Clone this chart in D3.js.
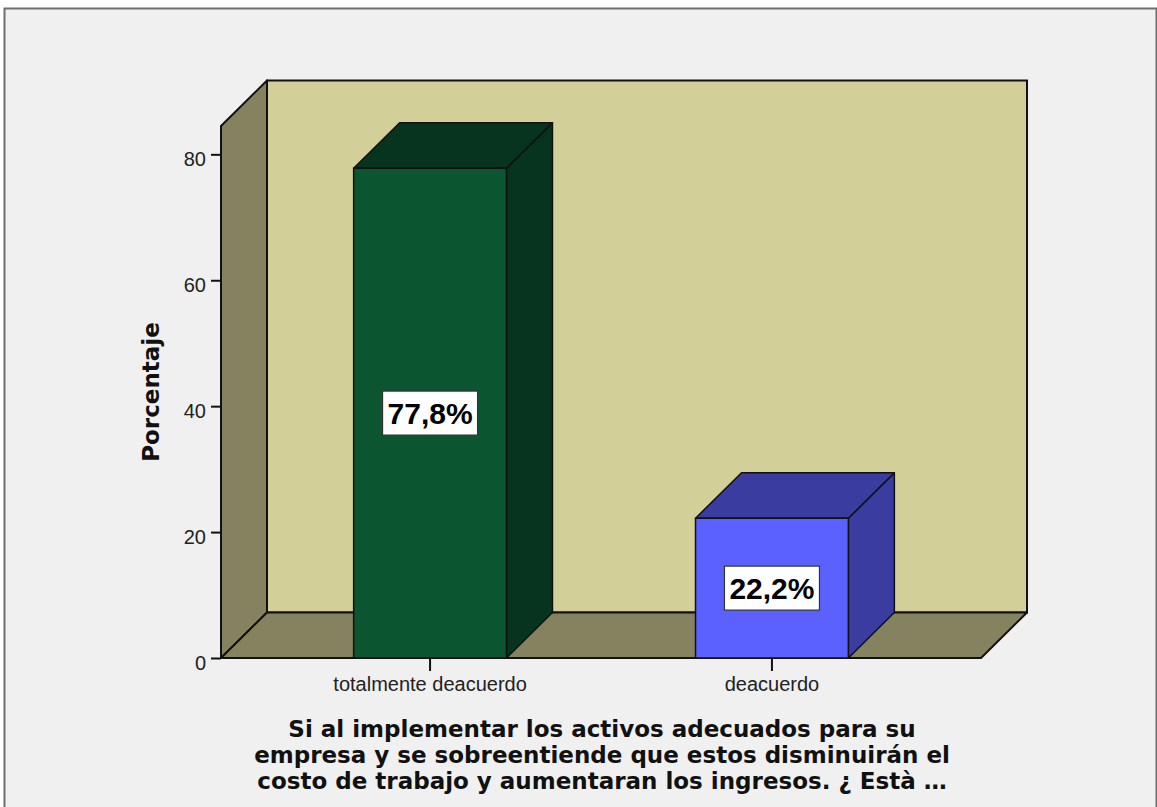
<!DOCTYPE html>
<html><head><meta charset="utf-8">
<script src="https://cdn.jsdelivr.net/npm/d3@7"></script>
<style>body{margin:0;background:#fff;} svg{display:block}</style>
</head><body>
<svg id="chart" width="1157" height="807"></svg>
<script>
const categories = ["totalmente deacuerdo", "deacuerdo"];
const percentages = [77.8, 22.2];
const valueLabels = ["77,8%", "22,2%"];
const yTicks = [0, 20, 40, 60, 80];
const yAxisTitle = "Porcentaje";
const xAxisTitleLines = [
  "Si al implementar los activos adecuados para su",
  "empresa y se sobreentiende que estos disminuirán el",
  "costo de trabajo y aumentaran los ingresos. ¿ Està …"
];
const frontColors = ["#0b5530", "#5b61fe"];
const darkColors = ["#06341e", "#3a3ca0"];

const svg = d3.select("#chart");
const W = 1157, H = 807;

// frame
svg.append("rect").attr("x", 0).attr("y", 0).attr("width", W).attr("height", H).attr("fill", "#ffffff");
svg.append("rect").attr("x", 4.5).attr("y", 8.5).attr("width", 1152).attr("height", 820)
  .attr("fill", "#f0f0f0").attr("stroke", "#6e6e6e").attr("stroke-width", 2);

const dx = 46, dy = -45.5;
const yMax = 84.5;
const y = d3.scaleLinear().domain([0, yMax]).range([658, 126]);
const x = d3.scaleBand().domain(categories).range([221, 981]).paddingInner(0.553).paddingOuter(0.388);
const [xa, xb] = x.range();
const y0 = y(0), yT = y(yMax);
const pts = p => p.map(d => d.join(",")).join(" ");
const stroke = "#111";

// back wall
svg.append("rect").attr("x", xa + dx).attr("y", yT + dy).attr("width", xb - xa).attr("height", y0 - yT)
  .attr("fill", "#d3cf98").attr("stroke", stroke).attr("stroke-width", 2);
// left wall
svg.append("polygon").attr("points", pts([[xa, y0], [xa, yT], [xa + dx, yT + dy], [xa + dx, y0 + dy]]))
  .attr("fill", "#85825f").attr("stroke", stroke).attr("stroke-width", 2).attr("stroke-linejoin", "round");
// floor
svg.append("polygon").attr("points", pts([[xa, y0], [xb, y0], [xb + dx, y0 + dy], [xa + dx, y0 + dy]]))
  .attr("fill", "#85825f").attr("stroke", stroke).attr("stroke-width", 2).attr("stroke-linejoin", "round");

// bars
const bw = x.bandwidth();
const bars = svg.append("g").selectAll("g").data(categories).join("g");
bars.each(function (c, i) {
  const g = d3.select(this);
  const xl = x(c), xr = xl + bw, yt = y(percentages[i]);
  g.append("polygon").attr("points", pts([[xr, yt], [xr + dx, yt + dy], [xr + dx, y0 + dy], [xr, y0]]))
    .attr("fill", darkColors[i]).attr("stroke", stroke).attr("stroke-width", 1.5).attr("stroke-linejoin", "round");
  g.append("polygon").attr("points", pts([[xl, yt], [xl + dx, yt + dy], [xr + dx, yt + dy], [xr, yt]]))
    .attr("fill", darkColors[i]).attr("stroke", stroke).attr("stroke-width", 1.5).attr("stroke-linejoin", "round");
  g.append("rect").attr("x", xl).attr("y", yt).attr("width", bw).attr("height", y0 - yt)
    .attr("fill", frontColors[i]).attr("stroke", stroke).attr("stroke-width", 1.5);
  const cx = xl + bw / 2, cy = (yt + y0) / 2;
  g.append("rect").attr("x", cx - 47.5).attr("y", cy - 22).attr("width", 95).attr("height", 44)
    .attr("fill", "#ffffff").attr("stroke", "#333").attr("stroke-width", 1.2);
  g.append("text").attr("x", cx).attr("y", cy + 10.5).attr("text-anchor", "middle")
    .attr("font-family", "Liberation Sans, Arial, sans-serif").attr("font-weight", "bold")
    .attr("font-size", 30).attr("fill", "#000").text(valueLabels[i]);
});

// y axis
const yAxis = svg.append("g").attr("transform", `translate(${xa},0)`)
  .call(d3.axisLeft(y).tickValues(yTicks).tickSize(10).tickPadding(5).tickFormat(d3.format("d")));
yAxis.select(".domain").remove();
yAxis.selectAll(".tick line").attr("stroke", stroke).attr("stroke-width", 2);
yAxis.selectAll(".tick text").attr("font-family", "Liberation Sans, Arial, sans-serif")
  .attr("font-size", 20).attr("fill", "#222").attr("dy", "0.57em");

// x axis
const xAxis = svg.append("g").attr("transform", `translate(0,${y0})`)
  .call(d3.axisBottom(x).tickSize(13).tickPadding(6));
xAxis.select(".domain").remove();
xAxis.selectAll(".tick line").attr("stroke", stroke).attr("stroke-width", 2);
xAxis.selectAll(".tick text").attr("font-family", "Liberation Sans, Arial, sans-serif")
  .attr("font-size", 20).attr("fill", "#222");

// y title
svg.append("text").attr("transform", "translate(159,392) rotate(-90)").attr("text-anchor", "middle")
  .attr("font-family", "DejaVu Sans, sans-serif").attr("font-weight", "bold").attr("font-size", 23)
  .attr("fill", "#111").text(yAxisTitle);

// x title
const lineBase = [737, 763, 789];
svg.append("g").selectAll("text").data(xAxisTitleLines).join("text")
  .attr("x", 602).attr("y", (d, i) => lineBase[i]).attr("text-anchor", "middle")
  .attr("font-family", "DejaVu Sans, sans-serif").attr("font-weight", "bold").attr("font-size", 23)
  .attr("fill", "#111").text(d => d);
</script>
</body></html>
